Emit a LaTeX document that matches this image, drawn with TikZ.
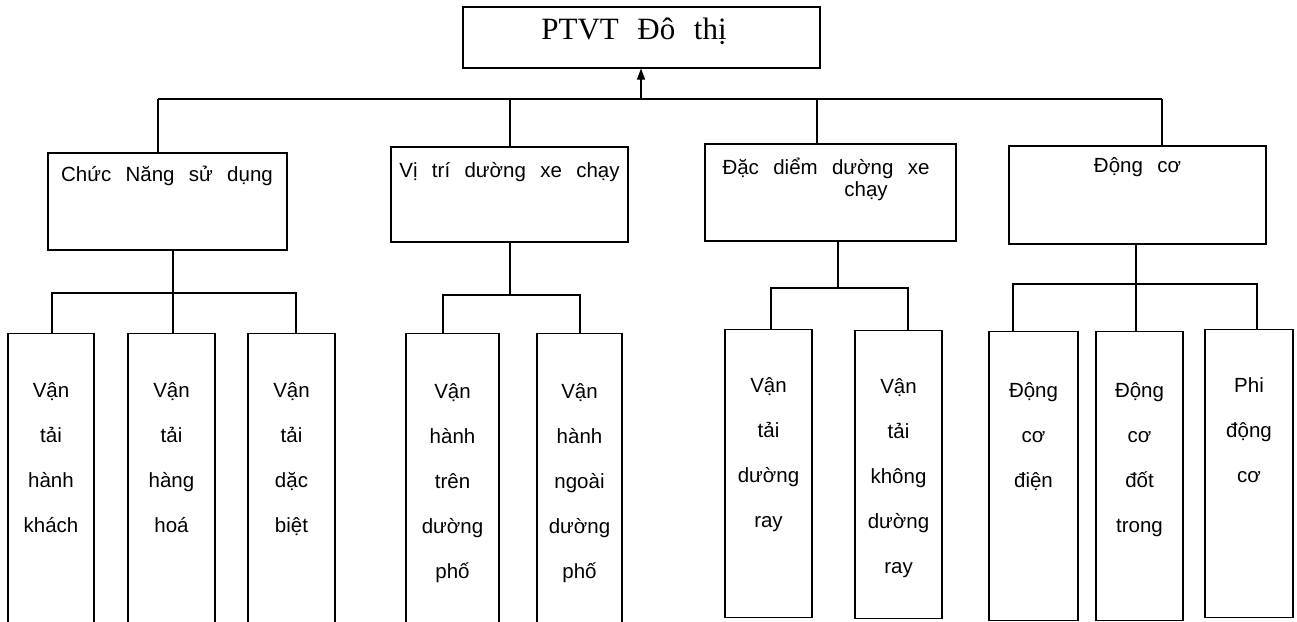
\documentclass[tikz,border=0pt]{standalone}
\usepackage{fontspec}
\setmainfont{Liberation Serif}
\newfontfamily\arial{Liberation Sans}
\usetikzlibrary{arrows.meta}

\begin{document}
\begin{tikzpicture}[x=1pt,y=-1pt,line width=1.1pt,
    box/.style={draw, inner sep=0pt},
    leaf/.style={draw, anchor=north, inner sep=0pt, minimum width=87pt, minimum height=288pt},
    head/.style={font={\arial\fontsize{20.5}{22}\selectfont\spaceskip=0.7em\relax}, align=center, anchor=base, inner sep=0pt},
    leaftext/.style={font={\arial\fontsize{20.5}{45}\selectfont}, align=center, anchor=base, inner sep=0pt}]
        \useasboundingbox (0,0) rectangle (1297,621);

        \node[box, minimum width=357pt, minimum height=61pt] (0) at (641.5,37.5) {};
        \node[font={\fontsize{31}{36}\selectfont\spaceskip=0.6em\relax}, anchor=base, inner sep=0pt] (0t) at (634,39) {PTVT Đô thị};

        \node[box, minimum width=239pt, minimum height=97pt] (1) at (167.5,201.5) {};
        \node[box, minimum width=237pt, minimum height=95pt] (2) at (509.5,194.5) {};
        \node[box, minimum width=251pt, minimum height=97pt] (3) at (830.5,192.5) {};
        \node[box, minimum width=257pt, minimum height=98pt] (4) at (1137.5,195) {};
        \node[head] (1t) at (167,181) {Chức Năng sử dụng};
        \node[head] (2t) at (509.5,177) {Vị trí dường xe chạy};
        \node[head] (3t) at (826,196) {Đặc diểm dường xe\\\hspace*{80pt}chạy};
        \node[head] (4t) at (1137.5,172) {Động cơ};

        \node[leaf, minimum width=86pt, minimum height=307pt] (11) at (51,333) {};
        \node[leaf, minimum height=307pt] (12) at (171.5,333) {};
        \node[leaf, minimum height=307pt] (13) at (291.5,333) {};
        \node[leaf, minimum width=93pt, minimum height=307pt] (21) at (452.5,333) {};
        \node[leaf, minimum width=85pt, minimum height=307pt] (22) at (579.5,333) {};
        \node[leaf] (31) at (768.5,329) {};
        \node[leaf] (32) at (898.5,330) {};
        \node[leaf, minimum width=89pt, minimum height=289pt] (41) at (1033.5,331) {};
        \node[leaf, minimum height=289pt] (42) at (1139.5,331) {};
        \node[leaf, minimum width=88pt] (43) at (1249,329) {};

        \node[leaftext] (11t) at (51,532) {Vận\\tải\\hành\\khách};
        \node[leaftext] (12t) at (171.5,532) {Vận\\tải\\hàng\\hoá};
        \node[leaftext] (13t) at (291.5,532) {Vận\\tải\\dặc\\biệt};
        \node[leaftext] (21t) at (452.5,578) {Vận\\hành\\trên\\dường\\phố};
        \node[leaftext] (22t) at (579.5,578) {Vận\\hành\\ngoài\\dường\\phố};
        \node[leaftext] (31t) at (768.5,527) {Vận\\tải\\dường\\ray};
        \node[leaftext] (32t) at (898.5,573) {Vận\\tải\\không\\dường\\ray};
        \node[leaftext] (41t) at (1033.5,487) {Động\\cơ\\điện};
        \node[leaftext] (42t) at (1139.5,532) {Động\\cơ\\đốt\\trong};
        \node[leaftext] (43t) at (1249,482) {Phi\\động\\cơ};

        \coordinate (j0) at (641,99);
        \coordinate (j1) at (158,99);
        \coordinate (j2) at (510,99);
        \coordinate (j3) at (817,99);
        \coordinate (j4) at (1162,99);
        \path[draw] (j1) -- (j4);
        \path[draw,-{Triangle[length=11pt,width=8pt]}] (j0) -- (j0 |- 0.south);
        \path[draw] (j1) -- (j1 |- 1.north);
        \path[draw] (j2) -- (j2 |- 2.north);
        \path[draw] (j3) -- (j3 |- 3.north);
        \path[draw] (j4) -- (j4 |- 4.north);

        \coordinate (g1) at (173,293);
        \coordinate (g1a) at (52,293);
        \coordinate (g1b) at (296,293);
        \path[draw] (g1 |- 1.south) -- (g1) -- (g1 |- 12.north);
        \path[draw] (g1a |- 11.north) -- (g1a) -- (g1b) -- (g1b |- 13.north);

        \coordinate (g2) at (510,295);
        \coordinate (g2a) at (443,295);
        \coordinate (g2b) at (580,295);
        \path[draw] (g2 |- 2.south) -- (g2);
        \path[draw] (g2a |- 21.north) -- (g2a) -- (g2b) -- (g2b |- 22.north);

        \coordinate (g3) at (838,288);
        \coordinate (g3a) at (771,288);
        \coordinate (g3b) at (908,288);
        \path[draw] (g3 |- 3.south) -- (g3);
        \path[draw] (g3a |- 31.north) -- (g3a) -- (g3b) -- (g3b |- 32.north);

        \coordinate (g4) at (1136,284);
        \coordinate (g4a) at (1013,284);
        \coordinate (g4b) at (1257,284);
        \path[draw] (g4 |- 4.south) -- (g4) -- (g4 |- 42.north);
        \path[draw] (g4a |- 41.north) -- (g4a) -- (g4b) -- (g4b |- 43.north);
    \end{tikzpicture}
\end{document}
